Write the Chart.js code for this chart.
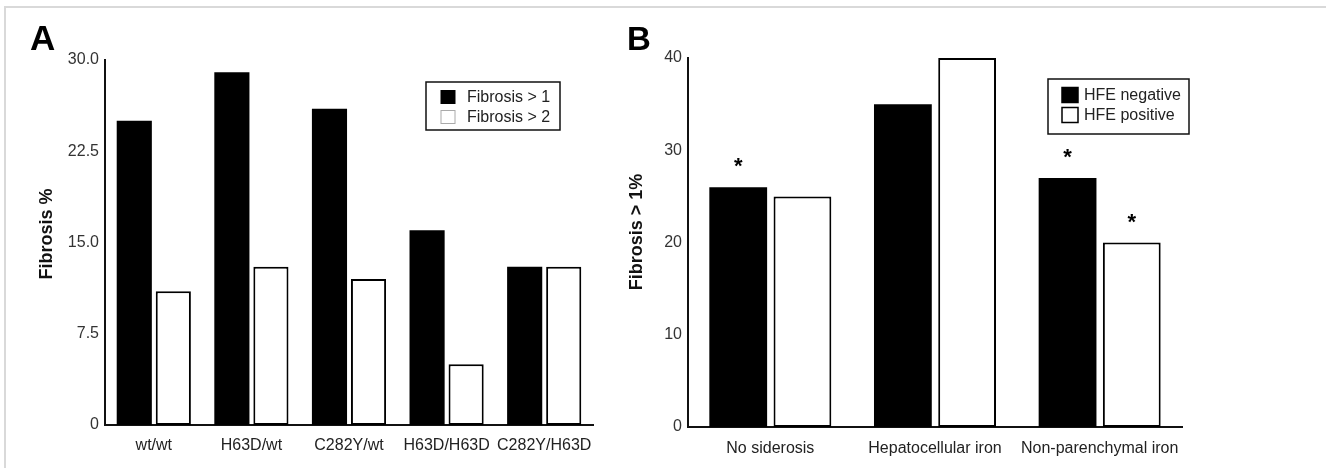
<!DOCTYPE html>
<html>
<head>
<meta charset="utf-8">
<script src="https://cdn.jsdelivr.net/npm/chart.js@4.4.1/dist/chart.umd.min.js"></script>
<style>
  html, body { margin: 0; padding: 0; background: #fff; }
  #wrap { position: relative; width: 1326px; height: 468px; overflow: hidden; background: #fff; }
  #frame { position: absolute; left: 4px; top: 6px; right: 0; bottom: 0; border-top: 2px solid #d9d9d9; border-left: 2px solid #d9d9d9; }
  canvas { position: absolute; left: 0; top: 0; }
</style>
</head>
<body>
<div id="wrap">
  <div id="frame"></div>
  <canvas id="chartA" width="1326" height="468"></canvas>
  <canvas id="chartB" width="1326" height="468"></canvas>
</div>
<script>
// ---- Panel A data ----
const categoriesA = ['wt/wt', 'H63D/wt', 'C282Y/wt', 'H63D/H63D', 'C282Y/H63D'];
const fibrosisGt1 = [25, 29, 26, 16, 13];
const fibrosisGt2 = [11, 13, 12, 5, 13];
const yTicksA = [0, 7.5, 15, 22.5, 30];
const yTickLabelsA = ['0', '7.5', '15.0', '22.5', '30.0'];

// ---- Panel B data ----
const categoriesB = ['No siderosis', 'Hepatocellular iron', 'Non-parenchymal iron'];
const hfeNegative = [26, 35, 27];
const hfePositive = [25, 40, 20];
const starsNegative = [true, false, true];
const starsPositive = [false, false, true];
const yTicksB = [0, 10, 20, 30, 40];
const yTickLabelsB = ['0', '10', '20', '30', '40'];

Chart.defaults.font.family = "'Liberation Sans', Arial, Helvetica, sans-serif";
Chart.defaults.color = '#222';

const boxLegend = {
  id: 'boxLegend',
  afterDraw(chart, args, o) {
    if (!o || !o.show) return;
    const ctx = chart.ctx;
    ctx.save();
    ctx.lineWidth = o.borderWidth;
    ctx.strokeStyle = '#111';
    ctx.strokeRect(o.x, o.y, o.w, o.h);
    ctx.font = o.fontSize + "px 'Liberation Sans', Arial, sans-serif";
    ctx.textBaseline = 'middle';
    ctx.textAlign = 'left';
    chart.data.datasets.forEach((ds, i) => {
      const cy = o.y + o.rowTop + i * o.rowGap;
      ctx.fillStyle = ds.backgroundColor;
      ctx.fillRect(o.sx, cy - o.sh / 2, o.sw, o.sh);
      ctx.lineWidth = o.swatchLine;
      ctx.strokeStyle = i === 0 ? '#000' : o.swatchBorder;
      ctx.strokeRect(o.sx, cy - o.sh / 2, o.sw, o.sh);
      ctx.fillStyle = '#222';
      ctx.fillText(ds.label, o.tx, cy + 1);
    });
    ctx.restore();
  }
};

const panelLabel = {
  id: 'panelLabel',
  afterDraw(chart, args, o) {
    if (!o || !o.text) return;
    const ctx = chart.ctx;
    ctx.save();
    ctx.font = 'bold ' + o.size + "px 'Liberation Sans', Arial, sans-serif";
    ctx.fillStyle = '#000';
    ctx.textBaseline = 'alphabetic';
    ctx.fillText(o.text, o.x, o.y);
    if (o.yTitle) {
      ctx.translate(o.yTitle.x, o.yTitle.y);
      ctx.rotate(-Math.PI / 2);
      ctx.font = "bold 18px 'Liberation Sans', Arial, sans-serif";
      ctx.fillStyle = '#111';
      ctx.textAlign = 'center';
      ctx.textBaseline = 'middle';
      ctx.fillText(o.yTitle.text, 0, 0);
    }
    ctx.restore();
  }
};

const stars = {
  id: 'stars',
  afterDatasetsDraw(chart, args, o) {
    const ctx = chart.ctx;
    ctx.save();
    ctx.font = "bold 22px 'Liberation Sans', Arial, sans-serif";
    ctx.fillStyle = '#000';
    ctx.textAlign = 'center';
    ctx.textBaseline = 'alphabetic';
    chart.data.datasets.forEach((ds, i) => {
      if (!ds.stars) return;
      const meta = chart.getDatasetMeta(i);
      ds.stars.forEach((s, j) => {
        if (!s) return;
        const el = meta.data[j];
        ctx.fillText('*', el.x, el.y - (o.offset || 14));
      });
    });
    ctx.restore();
  }
};

function yScale(max, tickVals, tickLabels, width) {
  return {
    min: 0, max: max,
    grid: { display: false, drawTicks: false },
    border: { display: true, color: '#111', width: 2 },
    afterBuildTicks: (s) => { s.ticks = tickVals.map(v => ({ value: v })); },
    ticks: {
      padding: 6,
      color: '#333',
      font: { size: 16 },
      callback: (v) => { const k = tickVals.indexOf(v); return k >= 0 ? tickLabels[k] : ''; }
    },
    title: { display: false },
    afterFit: (s) => { s.width = width; }
  };
}
function xScale(height, pad) {
  return {
    grid: { display: false, drawTicks: false },
    border: { display: true, color: '#111', width: 2 },
    ticks: { padding: pad, color: '#222', font: { size: 16 }, maxRotation: 0, autoSkip: false },
    afterFit: (s) => { s.height = height; }
  };
}

new Chart(document.getElementById('chartA'), {
  type: 'bar',
  data: {
    labels: categoriesA,
    datasets: [
      { label: 'Fibrosis > 1', data: fibrosisGt1, backgroundColor: '#000', borderColor: '#000', borderWidth: 0,
        categoryPercentage: 0.8, barPercentage: 0.9 },
      { label: 'Fibrosis > 2', data: fibrosisGt2, backgroundColor: '#fff', borderColor: '#000', borderWidth: 2, borderSkipped: false,
        categoryPercentage: 0.8, barPercentage: 0.9 }
    ]
  },
  options: {
    responsive: false, animation: false, devicePixelRatio: 1,
    layout: { padding: { left: 31, top: 60, right: 733, bottom: 0 } },
    scales: { x: xScale(43, 11), y: yScale(30, yTicksA, yTickLabelsA, 74) },
    plugins: {
      legend: { display: false }, tooltip: { enabled: false },
      boxLegend: { show: true, x: 426, y: 82, w: 134, h: 48, borderWidth: 1.5, rowTop: 15, rowGap: 20,
        sx: 441, sw: 14, sh: 13, swatchLine: 1, swatchBorder: '#aaa', tx: 467, fontSize: 16 },
      panelLabel: { text: 'A', x: 30, y: 50, size: 35, yTitle: { text: 'Fibrosis %', x: 47, y: 234 } }
    }
  },
  plugins: [boxLegend, panelLabel]
});

new Chart(document.getElementById('chartB'), {
  type: 'bar',
  data: {
    labels: categoriesB,
    datasets: [
      { label: 'HFE negative', data: hfeNegative, stars: starsNegative, backgroundColor: '#000', borderColor: '#000', borderWidth: 0,
        categoryPercentage: 0.78, barPercentage: 0.9 },
      { label: 'HFE positive', data: hfePositive, stars: starsPositive, backgroundColor: '#fff', borderColor: '#000', borderWidth: 2, borderSkipped: false,
        categoryPercentage: 0.78, barPercentage: 0.9 }
    ]
  },
  options: {
    responsive: false, animation: false, devicePixelRatio: 1,
    layout: { padding: { left: 621, top: 58, right: 144, bottom: 0 } },
    scales: { x: xScale(41, 12), y: yScale(40, yTicksB, yTickLabelsB, 67) },
    plugins: {
      legend: { display: false }, tooltip: { enabled: false },
      boxLegend: { show: true, x: 1048, y: 79, w: 141, h: 55, borderWidth: 1.5, rowTop: 16, rowGap: 20,
        sx: 1062, sw: 16, sh: 15, swatchLine: 1.5, swatchBorder: '#000', tx: 1084, fontSize: 16 },
      panelLabel: { text: 'B', x: 627, y: 50, size: 33, yTitle: { text: 'Fibrosis > 1%', x: 637, y: 232 } },
      stars: { offset: 14 }
    }
  },
  plugins: [boxLegend, panelLabel, stars]
});
</script>
</body>
</html>
